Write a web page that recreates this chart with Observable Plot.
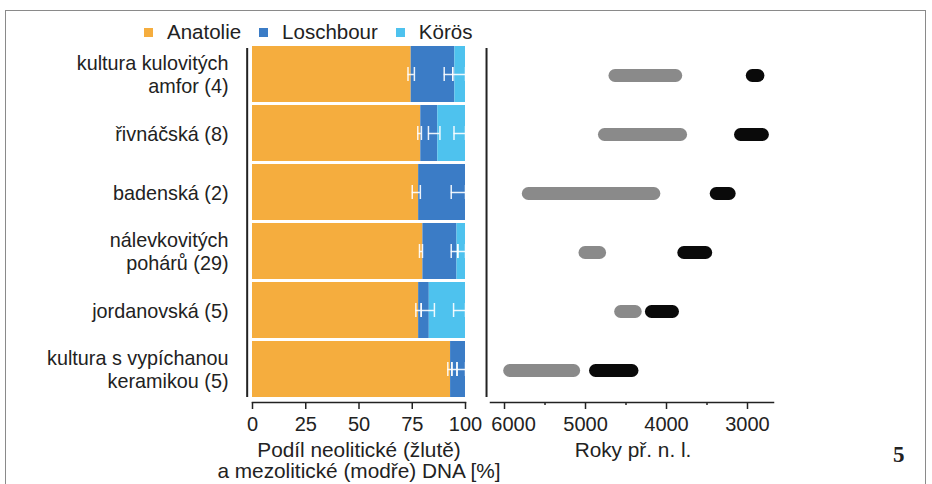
<!DOCTYPE html>
<html>
<head>
<meta charset="utf-8">
<script src="https://cdn.jsdelivr.net/npm/d3@7"></script>
<script src="https://cdn.jsdelivr.net/npm/@observablehq/plot@0.6"></script>
<style>
  html, body { margin: 0; padding: 0; background: #fff; }
  #root { position: relative; width: 932px; height: 484px; overflow: hidden; font-family: "Liberation Sans", Arial, sans-serif; color: #222; }
  #root svg { position: absolute; left: 0; top: 0; }
  .frame { position: absolute; left: 5px; top: 10px; width: 921px; height: 500px; border: 1px solid #8a8a8a; box-sizing: border-box; }
  .legend { position: absolute; left: 144px; top: 20px; display: flex; align-items: center; font-size: 20.5px; }
  .legend .sw { width: 9px; height: 9px; margin-right: 14px; }
  .legend .lab { margin-right: 18px; }
  .title { position: absolute; font-size: 20.8px; text-align: center; line-height: 21px; white-space: nowrap; transform: translateX(-50%); }
  .fig { position: absolute; left: 893px; top: 442px; font-family: "Liberation Serif", "DejaVu Serif", serif; font-weight: bold; font-size: 23px; color: #222; }
</style>
</head>
<body>
<div id="root">
  <div class="frame"></div>
</div>
<script>
// ---- data ----
const cultures = [
  "kultura kulovitých\namfor (4)",
  "řivnáčská (8)",
  "badenská (2)",
  "nálevkovitých\npohárů (29)",
  "jordanovská (5)",
  "kultura s vypíchanou\nkeramikou (5)"
];
const sources = ["Anatolie", "Loschbour", "Körös"];
const sourceColors = ["#F5AD3E", "#3B7CC6", "#4EC2EE"];
const anatolie  = [74.5, 79, 78, 80, 78, 93];
const loschbour = [20.5, 8, 22, 16, 5, 7];
const koros     = [5, 13, 0, 4, 17, 0];

// error bars (row index, low, high) in %
const errRow = [0, 0, 0, 1, 1, 1, 2, 2, 3, 3, 3, 4, 4, 4, 5, 5, 5];
const errLo  = [73, 90, 94, 77.6, 82.6, 94.6, 75, 93.3, 78.4, 93.3, 96.4, 76.7, 79.2, 94.4, 91.7, 93.6, 96];
const errHi  = [76, 94, 100, 79.3, 88, 100, 78.8, 100, 79.8, 96.4, 100, 79.2, 85.4, 100, 93.6, 96, 100];

// date ranges (years BC)
const greyStart  = [4630, 4760, 5700, 5000, 4560, 5930];
const greyEnd    = [3880, 3820, 4150, 4820, 4380, 5140];
const blackStart = [2935, 3080, 3380, 3780, 4180, 4870];
const blackEnd   = [2865, 2810, 3220, 3510, 3920, 4420];

const pctTicks = [0, 25, 50, 75, 100];
const yearTicks = [6000, 5000, 4000, 3000];
const yearMinor = [5500, 4500, 3500];

// ---- derived tables ----
const vals = [anatolie, loschbour, koros];
const stack = [];
cultures.forEach((c, i) => sources.forEach((s, j) => stack.push({culture: c, source: s, value: vals[j][i]})));
const errs = errRow.map((r, i) => ({culture: cultures[r], lo: errLo[i], hi: errHi[i]}));
const caps = errs.flatMap(d => [{culture: d.culture, v: d.lo}, {culture: d.culture, v: d.hi}]);
const grey = cultures.map((c, i) => ({culture: c, a: greyStart[i], b: greyEnd[i]}));
const black = cultures.map((c, i) => ({culture: c, a: blackStart[i], b: blackEnd[i]}));

const yScale = {domain: cultures, range: [45, 399], paddingInner: 0.05, paddingOuter: 0.025, label: null};
const style = {fontFamily: "Liberation Sans, Arial, sans-serif", fontSize: "20px", color: "#222", background: "transparent", overflow: "visible"};

const left = Plot.plot({
  width: 480, height: 484,
  marginTop: 45, marginBottom: 82, marginLeft: 252, marginRight: 15,
  style,
  x: {domain: [0, 100], label: null},
  y: yScale,
  color: {domain: sources, range: sourceColors},
  marks: [
    Plot.barX(stack, {x: "value", y: "culture", fill: "source", order: sources}),
    Plot.ruleY(errs, {y: "culture", x1: "lo", x2: "hi", stroke: "white", strokeOpacity: 0.9, strokeWidth: 1.5}),
    Plot.tickX(caps, {x: "v", y: "culture", stroke: "white", strokeOpacity: 0.9, strokeWidth: 1.5, insetTop: 21, insetBottom: 21}),
    Plot.ruleX([-2.5], {stroke: "#222", strokeWidth: 2, insetTop: 3, insetBottom: 5}),
    Plot.frame({anchor: "bottom", stroke: "#222", strokeWidth: 1.5}),
    Plot.axisX({ticks: pctTicks, tickSize: 7, tickPadding: 7, label: null, strokeWidth: 1.5}),
    Plot.axisY({tickSize: 0, tickPadding: 24, label: null, lineHeight: 1.17, fontSize: 19.8})
  ]
});

const right = Plot.plot({
  width: 932, height: 484,
  marginTop: 45, marginBottom: 82, marginLeft: 490, marginRight: 159,
  style,
  x: {domain: [6173, 2679], label: null},
  y: {...yScale, axis: null},
  marks: [
    Plot.ruleX([6222], {stroke: "#222", strokeWidth: 2, insetTop: 3, insetBottom: 5}),
    Plot.ruleY(grey, {y: "culture", x1: "a", x2: "b", stroke: "#8a8a8a", strokeWidth: 13, strokeLinecap: "round"}),
    Plot.ruleY(black, {y: "culture", x1: "a", x2: "b", stroke: "#0a0a0a", strokeWidth: 13, strokeLinecap: "round"}),
    Plot.frame({anchor: "bottom", stroke: "#222", strokeWidth: 1.5}),
    Plot.axisX({ticks: yearTicks, tickSize: 7, text: null, label: null, strokeWidth: 1.5}),
    Plot.axisX({ticks: yearMinor, tickSize: 3, text: null, label: null, strokeWidth: 1.5}),
    Plot.axisX({ticks: yearTicks.slice(1), tickFormat: d => String(d), tickSize: 0, tickPadding: 14, label: null}),
    Plot.axisX({ticks: yearTicks.slice(0, 1), tickFormat: d => String(d), tickSize: 0, tickPadding: 14, label: null, dx: 9})
  ]
});

const root = document.getElementById("root");
root.appendChild(left);
root.appendChild(right);

// legend
const legend = document.createElement("div");
legend.className = "legend";
sources.forEach((s, i) => {
  const sw = document.createElement("span");
  sw.className = "sw"; sw.style.background = sourceColors[i];
  const lab = document.createElement("span");
  lab.className = "lab"; lab.textContent = s;
  legend.appendChild(sw); legend.appendChild(lab);
});
root.appendChild(legend);

function addTitle(text, cx, top) {
  const d = document.createElement("div");
  d.className = "title"; d.style.left = cx + "px"; d.style.top = top + "px";
  d.innerHTML = text;
  root.appendChild(d);
}
addTitle("Podíl neolitické (žlutě)<br>a mezolitické (modře) DNA [%]", 359, 439);
addTitle("Roky př. n. l.", 633, 439);

const fig = document.createElement("div");
fig.className = "fig"; fig.textContent = "5";
root.appendChild(fig);
</script>
</body>
</html>
